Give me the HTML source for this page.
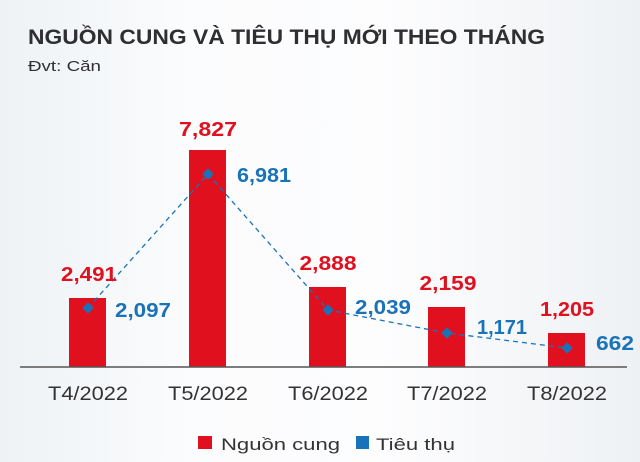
<!DOCTYPE html>
<html><head><meta charset="utf-8"><style>
html,body{margin:0;padding:0}
body{width:640px;height:462px;overflow:hidden;background:linear-gradient(90deg,#eef2f5,#fbfcfd 30%,#fdfdfe 60%,#eef1f4);font-family:"Liberation Sans",sans-serif}
</style></head><body>
<svg width="640" height="462" xmlns="http://www.w3.org/2000/svg" style="position:absolute;left:0;top:0">
<text x="28" y="44" font-family="Liberation Sans" font-weight="bold" font-size="21" fill="#2f2f31" textLength="517" lengthAdjust="spacingAndGlyphs">NGUỒN CUNG VÀ TIÊU THỤ MỚI THEO THÁNG</text>
<text x="28" y="71" font-family="Liberation Sans" font-size="15" fill="#2f2f31" textLength="73" lengthAdjust="spacingAndGlyphs">Đvt: Căn</text>
<g fill="#e0101f">
<rect x="69" y="298" width="37" height="69"/>
<rect x="189" y="150" width="37" height="217"/>
<rect x="309" y="287" width="37" height="80"/>
<rect x="428" y="307" width="37" height="60"/>
<rect x="548" y="333" width="37" height="34"/>
</g>
<line x1="20" y1="367" x2="627" y2="367" stroke="#555" stroke-width="1.5"/>
<polyline points="88,308 208,174 328,310 447,333 567,348" fill="none" stroke="#1a73b8" stroke-width="1.3" stroke-dasharray="5,4"/>
<g fill="#1a73b8">
<rect x="84" y="304" width="8" height="8" transform="rotate(45 88 308)"/>
<rect x="204" y="170" width="8" height="8" transform="rotate(45 208 174)"/>
<rect x="324" y="306" width="8" height="8" transform="rotate(45 328 310)"/>
<rect x="443" y="329" width="8" height="8" transform="rotate(45 447 333)"/>
<rect x="563" y="344" width="8" height="8" transform="rotate(45 567 348)"/>
</g>
<g font-family="Liberation Sans" font-weight="bold" font-size="20" fill="#e0101f" text-anchor="middle">
<text x="89" y="281" textLength="56" lengthAdjust="spacingAndGlyphs">2,491</text>
<text x="208" y="136" textLength="58" lengthAdjust="spacingAndGlyphs">7,827</text>
<text x="328" y="270" textLength="57" lengthAdjust="spacingAndGlyphs">2,888</text>
<text x="448" y="290" textLength="57" lengthAdjust="spacingAndGlyphs">2,159</text>
<text x="567" y="316" textLength="54" lengthAdjust="spacingAndGlyphs">1,205</text>
</g>
<g font-family="Liberation Sans" font-weight="bold" font-size="20" fill="#1a73b8">
<text x="115" y="317" textLength="56" lengthAdjust="spacingAndGlyphs">2,097</text>
<text x="237" y="182" textLength="54" lengthAdjust="spacingAndGlyphs">6,981</text>
<text x="355" y="314" textLength="56" lengthAdjust="spacingAndGlyphs">2,039</text>
<text x="477" y="334" textLength="50" lengthAdjust="spacingAndGlyphs">1,171</text>
<text x="596" y="350" textLength="38" lengthAdjust="spacingAndGlyphs">662</text>
</g>
<g font-family="Liberation Sans" font-size="19" fill="#333" text-anchor="middle">
<text x="88" y="400" textLength="80" lengthAdjust="spacingAndGlyphs">T4/2022</text>
<text x="208" y="400" textLength="80" lengthAdjust="spacingAndGlyphs">T5/2022</text>
<text x="328" y="400" textLength="80" lengthAdjust="spacingAndGlyphs">T6/2022</text>
<text x="447" y="400" textLength="80" lengthAdjust="spacingAndGlyphs">T7/2022</text>
<text x="567" y="400" textLength="80" lengthAdjust="spacingAndGlyphs">T8/2022</text>
</g>
<rect x="198" y="436" width="14" height="13" fill="#e0101f"/>
<text x="221" y="450" font-family="Liberation Sans" font-size="17" fill="#333" textLength="119" lengthAdjust="spacingAndGlyphs">Nguồn cung</text>
<rect x="356" y="436" width="13" height="13" fill="#1a73b8"/>
<text x="376" y="450" font-family="Liberation Sans" font-size="17" fill="#333" textLength="79" lengthAdjust="spacingAndGlyphs">Tiêu thụ</text>
</svg>
</body></html>
